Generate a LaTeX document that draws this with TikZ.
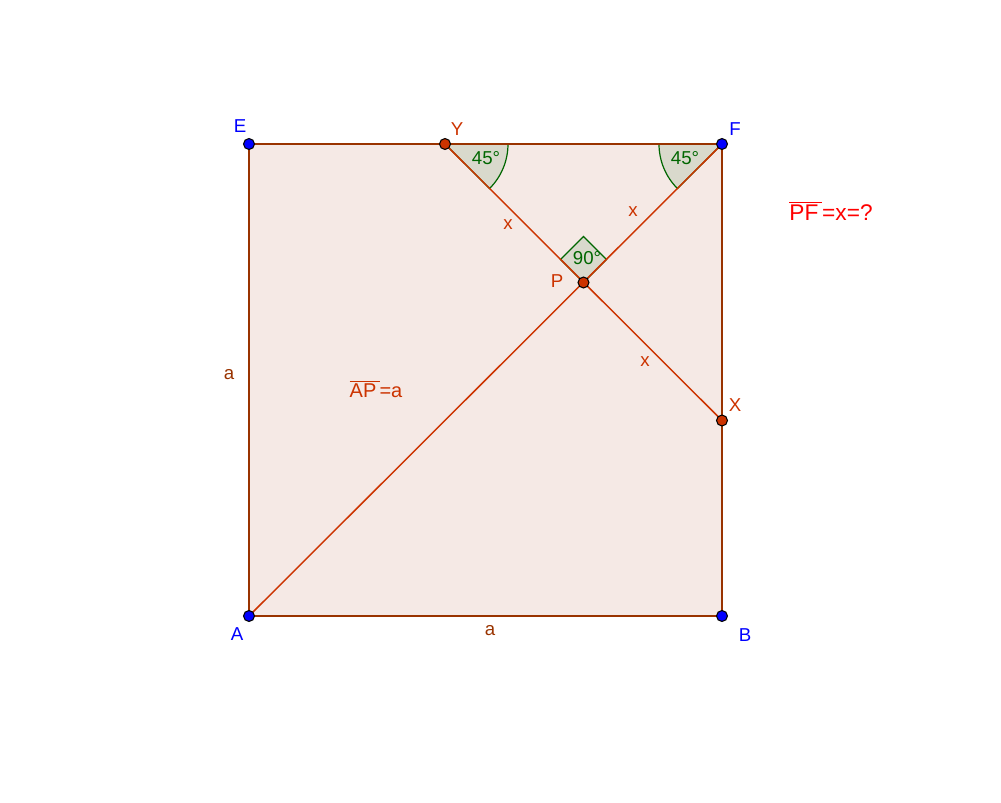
\documentclass[tikz,border=0pt]{standalone}
\usepackage{fontspec}
\setmainfont{Liberation Sans}
\definecolor{edgebrown}{HTML}{993300}
\definecolor{segred}{HTML}{CC3300}
\definecolor{fillpink}{HTML}{F5E9E5}
\definecolor{anglefill}{HTML}{D9D9CC}
\definecolor{anglegreen}{HTML}{006600}
\definecolor{ptblue}{HTML}{0000FF}
\definecolor{ptred}{HTML}{CC3300}
\tikzset{
  edge/.style={draw=edgebrown, line width=1.1pt},
  seg/.style={draw=segred, line width=1.1pt},
  angmark/.style={fill=anglefill, draw=anglegreen, line width=0.9pt},
  bluept/.style={circle, fill=ptblue, draw=black, line width=0.8pt, inner sep=0pt, minimum size=8.2pt},
  redpt/.style={circle, fill=ptred, draw=black, line width=0.8pt, inner sep=0pt, minimum size=8.2pt},
  bluelbl/.style={text=ptblue, font=\fontsize{14}{16}\selectfont},
  redlbl/.style={text=segred, font=\fontsize{14}{16}\selectfont},
  brownlbl/.style={text=edgebrown, font=\fontsize{14}{16}\selectfont},
  anglbl/.style={text=anglegreen, font=\fontsize{14}{16}\selectfont},
}
\begin{document}
\begin{tikzpicture}[x=0.75pt,y=-0.75pt]
\useasboundingbox (0,0) rectangle (1001,803);
\coordinate (A) at (249,616);
\coordinate (B) at (722,616);
\coordinate (F) at (722,144);
\coordinate (E) at (249,144);
\coordinate (P) at (583.5,282.5);
\coordinate (Y) at (445,144);
\coordinate (X) at (722,420.5);
% square fill
\fill[fillpink] (A) -- (B) -- (F) -- (E) -- cycle;
% angle marks
\path[angmark] (Y) -- ++(63,0) arc[start angle=0, end angle=-45, radius=63*0.75pt] -- cycle;
\path[angmark] (F) -- ++(-63,0) arc[start angle=180, end angle=225, radius=63*0.75pt] -- cycle;
\path[angmark] (P) -- ++(-23,-23) -- ++(23,-23) -- ++(23,23) -- cycle;
% square edges
\draw[edge] (A) -- (B) -- (F) -- (E) -- cycle;
% segments
\draw[seg] (A) -- (F);
\draw[seg] (Y) -- (X);
% points
\node[bluept] (nE) at (E) {};
\node[bluept] (nF) at (F) {};
\node[bluept] (nA) at (A) {};
\node[bluept] (nB) at (B) {};
\node[redpt] (nY) at (Y) {};
\node[redpt] (nP) at (P) {};
\node[redpt] (nX) at (X) {};
% labels
\node[bluelbl] (lE) at (240,126) {E};
\node[bluelbl] (lF) at (735,129) {F};
\node[bluelbl] (lA) at (237,634) {A};
\node[bluelbl] (lB) at (745,635) {B};
\node[redlbl] (lY) at (457,129) {Y};
\node[redlbl] (lP) at (557,281) {P};
\node[redlbl] (lX) at (735,405) {X};
\node[brownlbl] (la1) at (229,375) {a};
\node[brownlbl] (la2) at (490,631) {a};
\node[redlbl] (lx1) at (508,225) {x};
\node[redlbl] (lx2) at (633,212) {x};
\node[redlbl] (lx3) at (645,362) {x};
\node[redlbl, font=\fontsize{15}{17}\selectfont] (lAP) at (376,389) {$\overline{\mbox{AP}\,}$=a};
\node[text=red, font=\fontsize{17}{19}\selectfont] (lPF) at (831,211) {$\overline{\mbox{PF}\,}$=x=?};
\node[anglbl] (g1) at (486,158) {45°};
\node[anglbl] (g2) at (685,158) {45°};
\node[anglbl] (g3) at (587,258) {90°};
\end{tikzpicture}
\end{document}
